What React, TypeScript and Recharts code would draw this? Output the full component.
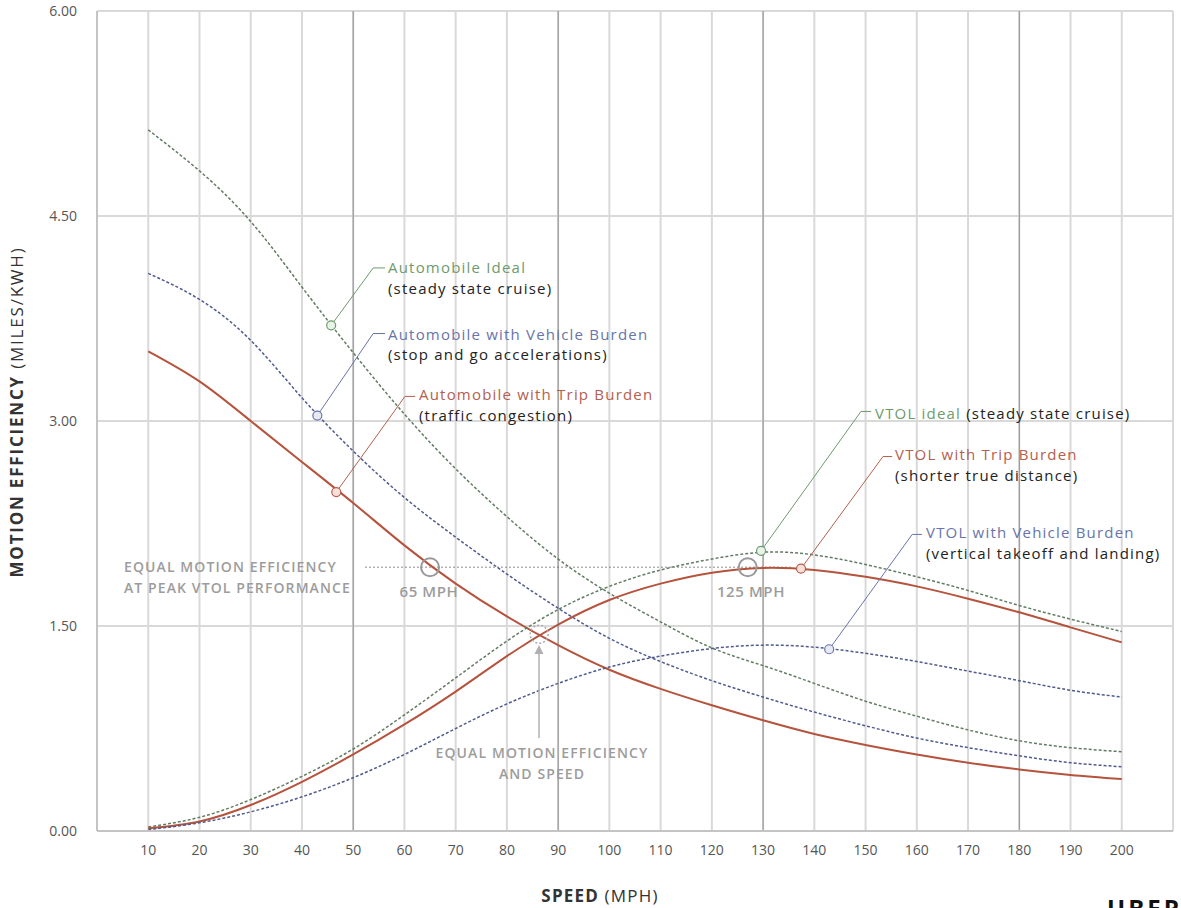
import { LineChart, Line, XAxis, YAxis, CartesianGrid, ReferenceLine, ReferenceDot } from 'recharts';

const speeds = [10, 20, 30, 40, 50, 60, 70, 80, 90, 100, 110, 120, 130, 140, 150, 160, 170, 180, 190, 200];

const autoIdeal = [5.13, 4.83, 4.46, 3.98, 3.5, 3.05, 2.65, 2.3, 1.99, 1.74, 1.53, 1.34, 1.21, 1.08, 0.95, 0.84, 0.74, 0.66, 0.61, 0.58];
const autoVehicle = [4.08, 3.89, 3.59, 3.17, 2.78, 2.44, 2.15, 1.88, 1.63, 1.41, 1.24, 1.1, 0.98, 0.87, 0.77, 0.68, 0.61, 0.55, 0.5, 0.47];
const autoTrip = [3.51, 3.29, 3.0, 2.7, 2.4, 2.09, 1.81, 1.57, 1.36, 1.18, 1.04, 0.92, 0.81, 0.71, 0.63, 0.56, 0.5, 0.45, 0.41, 0.38];
const vtolIdeal = [0.03, 0.1, 0.23, 0.4, 0.6, 0.85, 1.12, 1.39, 1.62, 1.79, 1.91, 1.99, 2.04, 2.02, 1.95, 1.86, 1.76, 1.65, 1.55, 1.46];
const vtolTrip = [0.02, 0.07, 0.19, 0.36, 0.56, 0.78, 1.02, 1.28, 1.51, 1.69, 1.81, 1.89, 1.925, 1.91, 1.86, 1.79, 1.7, 1.6, 1.49, 1.38];
const vtolVehicle = [0.01, 0.06, 0.14, 0.25, 0.39, 0.56, 0.75, 0.93, 1.08, 1.2, 1.28, 1.335, 1.36, 1.345, 1.3, 1.24, 1.17, 1.1, 1.03, 0.98];

const yTicks = [0, 1.5, 3, 4.5, 6];
const darkGrid = [50, 90, 130, 180];

const data = speeds.map((s, i) => ({
  speed: s,
  autoIdeal: autoIdeal[i],
  autoVehicle: autoVehicle[i],
  autoTrip: autoTrip[i],
  vtolIdeal: vtolIdeal[i],
  vtolTrip: vtolTrip[i],
  vtolVehicle: vtolVehicle[i],
}));

const GREEN = '#627c62';
const BLUE = '#4f5a8e';
const RED = '#b5533d';
const GREEN_T = '#6e9a6e';
const BLUE_T = '#6874aa';
const RED_T = '#b2604f';

// callouts: dot on curve -> elbow -> end of leader
const callouts = [
  { dot: [45.7, 3.7], elbow: [53.9, 4.12], end: [56.2, 4.12], color: GREEN_T, fill: '#e9f3e9' },
  { dot: [43.0, 3.04], elbow: [53.9, 3.64], end: [56.2, 3.64], color: BLUE_T, fill: '#e7e9f5' },
  { dot: [46.7, 2.48], elbow: [60.1, 3.18], end: [62.1, 3.18], color: RED_T, fill: '#f8e0d9' },
  { dot: [129.6, 2.05], elbow: [149.1, 3.07], end: [151.1, 3.07], color: GREEN_T, fill: '#e9f3e9' },
  { dot: [137.4, 1.92], elbow: [153.4, 2.74], end: [155.2, 2.74], color: RED_T, fill: '#f8e0d9' },
  { dot: [142.9, 1.33], elbow: [159.1, 2.17], end: [161.0, 2.17], color: BLUE_T, fill: '#e7e9f5' },
];

const sub = '#222';
const gray = '#9c9c9c';

export default function App() {
  return (
    <div style={{ position: 'absolute', left: 0, top: 0, width: 1181, height: 908, background: '#fff', fontFamily: '"Open Sans", sans-serif', overflow: 'hidden' }}>
      <LineChart width={1181} height={908} data={data} margin={{ top: 11, right: 8, left: 37, bottom: 47 }}>
        <CartesianGrid stroke="#d9d9d9" strokeWidth={2} />
        <XAxis
          dataKey="speed"
          type="number"
          domain={[0, 210]}
          ticks={speeds}
          tickLine={false}
          tickSize={0}
          tickMargin={14}
          height={30}
          axisLine={{ stroke: '#c4c4c4', strokeWidth: 2 }}
          tick={{ fill: '#555', fontSize: 14 }}
        />
        <YAxis
          type="number"
          domain={[0, 6]}
          ticks={yTicks}
          width={60}
          tickLine={false}
          tickSize={0}
          tickMargin={20}
          axisLine={{ stroke: '#c4c4c4', strokeWidth: 2 }}
          tick={{ fill: '#555', fontSize: 14 }}
          tickFormatter={(v: number) => v.toFixed(2)}
        />
        {darkGrid.map((x) => (
          <ReferenceLine key={x} x={x} stroke="#8e8e8e" strokeWidth={1} />
        ))}
        <ReferenceLine x={210} stroke="#d9d9d9" strokeWidth={2} />

        {/* peak vtol dotted guide */}
        <ReferenceLine segment={[{ x: 52.4, y: 1.93 }, { x: 135.3, y: 1.93 }]} stroke="#666" strokeWidth={1.5} strokeDasharray="1 3" />

        <Line type="natural" dataKey="autoIdeal" stroke={GREEN} strokeWidth={1.5} strokeDasharray="3 2" dot={false} isAnimationActive={false} />
        <Line type="natural" dataKey="autoVehicle" stroke={BLUE} strokeWidth={1.5} strokeDasharray="3 2" dot={false} isAnimationActive={false} />
        <Line type="natural" dataKey="autoTrip" stroke={RED} strokeWidth={2} dot={false} isAnimationActive={false} />
        <Line type="natural" dataKey="vtolIdeal" stroke={GREEN} strokeWidth={1.5} strokeDasharray="3 2" dot={false} isAnimationActive={false} />
        <Line type="natural" dataKey="vtolTrip" stroke={RED} strokeWidth={2} dot={false} isAnimationActive={false} />
        <Line type="natural" dataKey="vtolVehicle" stroke={BLUE} strokeWidth={1.5} strokeDasharray="3 2" dot={false} isAnimationActive={false} />

        {/* gray markers */}
        <ReferenceDot x={65} y={1.93} r={9} fill="none" stroke="#999" strokeWidth={2} />
        <ReferenceDot x={127} y={1.93} r={9} fill="none" stroke="#999" strokeWidth={2} />
        <ReferenceDot x={86.3} y={1.44} r={9} fill="none" stroke="#aaa" strokeWidth={1.5} strokeDasharray="2 2" />

        {callouts.map((c, i) => (
          <ReferenceLine
            key={'l' + i}
            segment={[{ x: c.dot[0], y: c.dot[1] }, { x: c.elbow[0], y: c.elbow[1] }]}
            stroke={c.color}
            strokeWidth={1}
          />
        ))}
        {callouts.map((c, i) => (
          <ReferenceLine
            key={'e' + i}
            segment={[{ x: c.elbow[0], y: c.elbow[1] }, { x: c.end[0], y: c.end[1] }]}
            stroke={c.color}
            strokeWidth={1}
          />
        ))}
        {callouts.map((c, i) => (
          <ReferenceDot key={'d' + i} x={c.dot[0]} y={c.dot[1]} r={4.5} fill={c.fill} stroke={c.color} strokeWidth={1.2} />
        ))}
      </LineChart>

      <svg width={1181} height={908} style={{ position: 'absolute', left: 0, top: 0, pointerEvents: 'none' }}>
        <g fontSize={15} letterSpacing={1.2} dominantBaseline="central">
          <text x={388} y={267} fill={GREEN_T}>Automobile Ideal</text>
          <text x={388} y={288} fill={sub}>(steady state cruise)</text>
          <text x={388} y={334} fill={BLUE_T}>Automobile with Vehicle Burden</text>
          <text x={388} y={354} fill={sub}>(stop and go accelerations)</text>
          <text x={419} y={394} fill={RED_T}>Automobile with Trip Burden</text>
          <text x={419} y={415} fill={sub}>(traffic congestion)</text>
          <text x={875} y={413}>
            <tspan fill={GREEN_T}>VTOL ideal</tspan>
            <tspan fill={sub}> (steady state cruise)</tspan>
          </text>
          <text x={895} y={454} fill={RED_T}>VTOL with Trip Burden</text>
          <text x={895} y={475} fill={sub}>(shorter true distance)</text>
          <text x={926} y={532} fill={BLUE_T}>VTOL with Vehicle Burden</text>
          <text x={926} y={553} fill={sub}>(vertical takeoff and landing)</text>
        </g>

        <g fontSize={14} fontWeight={600} fill={gray} letterSpacing={1.1} dominantBaseline="central">
          <text x={124} y={566}>EQUAL MOTION EFFICIENCY</text>
          <text x={124} y={587}>AT PEAK VTOL PERFORMANCE</text>
          <text x={429} y={591} textAnchor="middle" fontSize={15} letterSpacing={0.6}>65 MPH</text>
          <text x={751} y={591} textAnchor="middle" fontSize={15} letterSpacing={0.6}>125 MPH</text>
          <text x={542} y={752} textAnchor="middle">EQUAL MOTION EFFICIENCY</text>
          <text x={542} y={773} textAnchor="middle">AND SPEED</text>
        </g>

        <line x1={539} y1={738} x2={539} y2={652} stroke="#b0b0b0" strokeWidth={1.5} />
        <polygon points="539,645 534.5,654 543.5,654" fill="#b0b0b0" />

        <text x={600} y={895} textAnchor="middle" dominantBaseline="central" fontSize={17} fill="#333" letterSpacing={1.2}>
          <tspan fontWeight={700}>SPEED</tspan>
          <tspan> (MPH)</tspan>
        </text>
        <text
          transform="translate(16, 412) rotate(-90)"
          textAnchor="middle"
          dominantBaseline="central"
          fontSize={17}
          fill="#333"
          letterSpacing={1.8}
        >
          <tspan fontWeight={700}>MOTION EFFICIENCY</tspan>
          <tspan> (MILES/KWH)</tspan>
        </text>

        <text x={1107} y={917} fontSize={24} fontWeight={700} fill="#111" letterSpacing={3}>UBER</text>
      </svg>
    </div>
  );
}
